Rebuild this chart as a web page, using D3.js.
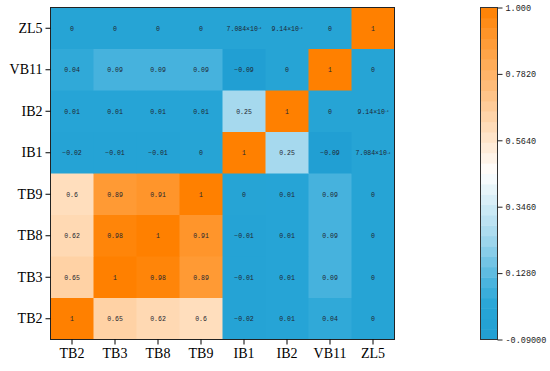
<!DOCTYPE html>
<html>
<head>
  <meta charset="utf-8">
  <title>Correlation Heatmap</title>
  <style>
  body { margin: 0; background: #fff; }
  .axis text { font-family: "Liberation Serif", "Times New Roman", serif; font-size: 14px; fill: #000; }
  .axis line { stroke: #000; }
  .cell-label { font-family: "Liberation Mono", monospace; font-size: 6.5px; fill: #1f2630; text-anchor: middle; }
  .bar-label { font-family: "Liberation Mono", monospace; font-size: 8.5px; fill: #222; }
  </style>
</head>
<body>
  <div id="chart"></div>
  <script src="https://cdn.jsdelivr.net/npm/d3@7"></script>
  <script>
  // band names, bottom-to-top on y and left-to-right on x
  var bands = ["TB2", "TB3", "TB8", "TB9", "IB1", "IB2", "VB11", "ZL5"];

  // correlation rows, one per band (same order as bands)
  var rowTB2  = [1, 0.65, 0.62, 0.6, -0.02, 0.01, 0.04, 0];
  var rowTB3  = [0.65, 1, 0.98, 0.89, -0.01, 0.01, 0.09, 0];
  var rowTB8  = [0.62, 0.98, 1, 0.91, -0.01, 0.01, 0.09, 0];
  var rowTB9  = [0.6, 0.89, 0.91, 1, 0, 0.01, 0.09, 0];
  var rowIB1  = [-0.02, -0.01, -0.01, 0, 1, 0.25, -0.09, 7.084e-4];
  var rowIB2  = [0.01, 0.01, 0.01, 0.01, 0.25, 1, 0, 9.14e-4];
  var rowVB11 = [0.04, 0.09, 0.09, 0.09, -0.09, 0, 1, 0];
  var rowZL5  = [0, 0, 0, 0, 7.084e-4, 9.14e-4, 0, 1];
  var rows = [rowTB2, rowTB3, rowTB8, rowTB9, rowIB1, rowIB2, rowVB11, rowZL5];

  // colour bar ticks
  var barTicks = [-0.09, 0.128, 0.346, 0.564, 0.782, 1.0];
  var barTickLabels = ["-0.09000", "0.1280", "0.3460", "0.5640", "0.7820", "1.000"];

  var width = 550, height = 371;
  var svg = d3.select("#chart").append("svg")
    .attr("width", width)
    .attr("height", height);

  var x = d3.scaleBand().domain(bands).range([50.5, 394.5]);
  var y = d3.scaleBand().domain(bands).range([339.5, 7.5]);

  // colour map: blue -> white -> orange
  var color = d3.scaleLinear()
    .domain([-0.09, 0.02, 0.09, 0.25, 0.46, 1.0])
    .range(["#219fd3", "#27a5d6", "#46b2dd", "#a6d9ee", "#ffffff", "#ff8000"])
    .clamp(true);

  // flatten the matrix into cells
  var cells = [];
  rows.forEach(function(r, i) {
    r.forEach(function(v, j) {
      cells.push({row: bands[i], col: bands[j], value: v});
    });
  });

  var cell = svg.append("g").selectAll("g")
    .data(cells)
    .enter().append("g");

  // cells overlap by half a pixel so no seams show
  cell.append("rect")
    .attr("x", function(d) { return x(d.col); })
    .attr("y", function(d) { return y(d.row) - 0.5; })
    .attr("width", x.bandwidth() + 0.5)
    .attr("height", y.bandwidth() + 0.5)
    .attr("fill", function(d) { return color(d.value); });

  var label = cell.append("text")
    .attr("class", "cell-label")
    .attr("x", function(d) { return x(d.col) + x.bandwidth() / 2; })
    .attr("y", function(d) { return y(d.row) + y.bandwidth() / 2; })
    .attr("dy", "0.35em");

  label.each(function(d) {
    var t = d3.select(this);
    if (d.value !== 0 && Math.abs(d.value) < 0.005) {
      // small values shown as mantissa x 10 with a tiny exponent
      var exp = Math.floor(Math.log10(Math.abs(d.value)));
      var mant = +(d.value / Math.pow(10, exp)).toPrecision(4);
      t.text(mant + "×10");
      t.append("tspan").attr("dy", "-0.5em").style("font-size", "3px").text(exp);
    } else {
      t.text(d3.format("~g")(+d.value.toFixed(2)));
    }
  });

  // frame around the heatmap
  svg.append("rect")
    .attr("x", 50.5).attr("y", 7.5)
    .attr("width", 344).attr("height", 332)
    .attr("fill", "none")
    .attr("stroke", "#222");

  // axes
  svg.append("g")
    .attr("class", "axis")
    .attr("transform", "translate(50.5,0)")
    .call(d3.axisLeft(y).tickSize(5).tickPadding(3))
    .call(function(g) { g.select(".domain").remove(); });

  svg.append("g")
    .attr("class", "axis")
    .attr("transform", "translate(0,339.5)")
    .call(d3.axisBottom(x).tickSize(5).tickPadding(4))
    .call(function(g) { g.select(".domain").remove(); });

  // colour bar, drawn in discrete steps
  var barY = d3.scaleLinear().domain([-0.09, 1.0]).range([339.5, 7.5]);
  var steps = d3.range(32).map(function(i) {
    var lo = -0.09 + i * 1.09 / 32, hi = lo + 1.09 / 32;
    return {lo: lo, hi: hi};
  });

  var bar = svg.append("g");
  bar.selectAll("rect")
    .data(steps)
    .enter().append("rect")
    .attr("x", 480.5)
    .attr("width", 17)
    .attr("y", function(d) { return barY(d.hi); })
    .attr("height", function(d) { return barY(d.lo) - barY(d.hi) + 0.5; })
    .attr("fill", function(d) { return color((d.lo + d.hi) / 2); });

  bar.append("rect")
    .attr("x", 480.5).attr("y", 7.5)
    .attr("width", 17).attr("height", 332)
    .attr("fill", "none")
    .attr("stroke", "#333");

  var barAxis = svg.append("g")
    .attr("transform", "translate(497.5,0)")
    .call(d3.axisRight(barY)
      .tickValues(barTicks)
      .tickSize(5)
      .tickPadding(3)
      .tickFormat(function(d, i) { return barTickLabels[i]; }))
    .call(function(g) { g.select(".domain").remove(); });

  barAxis.selectAll("text").attr("class", "bar-label");
  barAxis.selectAll("line").attr("stroke", "#222");
  </script>
</body>
</html>
